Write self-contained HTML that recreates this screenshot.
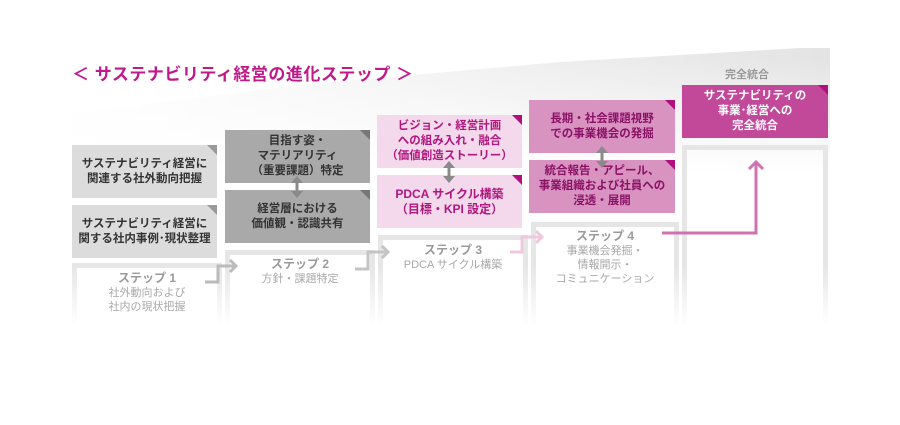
<!DOCTYPE html>
<html><head><meta charset="utf-8"><style>
body{margin:0;width:900px;height:425px;background:#fff;position:relative;overflow:hidden;font-family:"Liberation Sans","Noto Sans CJK JP",sans-serif;}
.a{position:absolute}
.card{position:absolute;display:flex;align-items:center;justify-content:center;text-align:center;font-size:11.5px;font-weight:bold;line-height:15px;}
.pil{position:absolute;border:5px solid #e6e6e6;box-sizing:border-box;}
.lab{position:absolute;text-align:center;color:#a8a8a8;font-size:11px;line-height:14px}
.lab b{font-size:12px;color:#9a9a9a}
</style></head><body>
<svg class="a" style="left:0;top:0" width="900" height="425">
<defs>
<linearGradient id="w" x1="0" x2="1" y1="0" y2="0"><stop offset="0" stop-color="#fff"/><stop offset="0.5" stop-color="#f2f2f2"/><stop offset="1" stop-color="#e4e4e4"/></linearGradient>
<linearGradient id="v" x1="0" x2="0" y1="0" y2="1"><stop offset="0" stop-color="#fff" stop-opacity="0"/><stop offset="1" stop-color="#fff" stop-opacity="1"/></linearGradient>
</defs>
<polygon points="60,115 300,85 560,62 800,48 830,48 830,170 60,170" fill="url(#w)"/>
<rect x="55" y="60" width="790" height="112" fill="url(#v)"/>
</svg>
<div class="a" style="left:72px;top:60px;font-size:17px;color:#c0198a;font-weight:bold;letter-spacing:0.5px">＜ サステナビリティ経営の進化ステップ ＞</div>
<div class="a" style="left:725px;top:66px;font-size:11px;color:#999;font-weight:bold">完全統合</div>

<div class="pil" style="left:72px;top:263px;width:150px;height:80px"></div>
<div class="pil" style="left:225px;top:250px;width:150px;height:90px"></div>
<div class="pil" style="left:378px;top:235px;width:150px;height:105px"></div>
<div class="pil" style="left:531px;top:222px;width:148px;height:120px"></div>
<div class="pil" style="left:682px;top:145px;width:146px;height:200px"></div>
<div class="a" style="left:60px;top:265px;width:790px;height:80px;background:linear-gradient(rgba(255,255,255,0),#fff 75%)"></div>

<div class="card" style="left:72px;top:145px;width:145px;height:53px;background:#dcdcdc;color:#333">サステナビリティ経営に<br>関連する社外動向把握</div>
<div class="card" style="left:72px;top:205px;width:145px;height:53px;background:#dcdcdc;color:#333">サステナビリティ経営に<br>関する社内事例･現状整理</div>
<div class="card" style="left:225px;top:130px;width:145px;height:53px;background:#a9a9a9;color:#333">目指す姿・<br>マテリアリティ<br>（重要課題）特定</div>
<div class="card" style="left:225px;top:190px;width:145px;height:53px;background:#a9a9a9;color:#333">経営層における<br>価値観・認識共有</div>
<div class="card" style="left:377px;top:115px;width:145px;height:53px;background:#f3d9eb;color:#b0177f">ビジョン・経営計画<br>への組み入れ・融合<br>（価値創造ストーリー）</div>
<div class="card" style="left:377px;top:175px;width:145px;height:53px;background:#f3d9eb;color:#b0177f;font-size:12px">PDCA サイクル構築<br>（目標・KPI 設定）</div>
<div class="card" style="left:529px;top:100px;width:146px;height:53px;background:#d993c1;color:#8a1266">長期・社会課題視野<br>での事業機会の発掘</div>
<div class="card" style="left:529px;top:160px;width:146px;height:53px;background:#d993c1;color:#8a1266">統合報告・アピール、<br>事業組織および社員への<br>浸透・展開</div>
<div class="card" style="left:682px;top:85px;width:146px;height:53px;background:#c2489a;color:#fff">サステナビリティの<br>事業･経営への<br>完全統合</div>

<svg class="a" style="left:0;top:0" width="900" height="425">
<g fill="#9a9a9a"><polygon points="207,145 217,155 217,145"/><polygon points="207,205 217,215 217,205"/></g>
<g fill="#777"><polygon points="360,130 370,140 370,130"/><polygon points="360,190 370,200 370,190"/></g>
<g fill="#b10f7e"><polygon points="512,115 522,125 522,115"/><polygon points="512,175 522,185 522,175"/><polygon points="665,100 675,110 675,100"/><polygon points="665,160 675,170 675,160"/><polygon points="818,85 828,95 828,85"/></g>
<line x1="297" y1="180" x2="297" y2="194" stroke="#8a8a8a" stroke-width="3"/>
<polygon points="291,183 297,176 303,183" fill="#8a8a8a"/><polygon points="291,191 297,198 303,191" fill="#8a8a8a"/>
<line x1="449" y1="165" x2="449" y2="179" stroke="#8a8a8a" stroke-width="3"/>
<polygon points="443,168 449,161 455,168" fill="#8a8a8a"/><polygon points="443,176 449,183 455,176" fill="#8a8a8a"/>
<line x1="602" y1="150" x2="602" y2="164" stroke="#8a8a8a" stroke-width="3"/>
<polygon points="596,153 602,146 608,153" fill="#8a8a8a"/><polygon points="596,161 602,168 608,161" fill="#8a8a8a"/>
<g fill="none" stroke-width="3">
<polyline points="205,282 218,282 218,266 236,266" stroke="#bbb"/><polyline points="230,260 236,266 230,272" stroke="#bbb"/>
<polyline points="355,269 368,269 368,252 388,252" stroke="#c4c4c4"/><polyline points="382,246 388,252 382,258" stroke="#c4c4c4"/>
<polyline points="510,252 522,252 522,237 542,237" stroke="#efc8e0"/><polyline points="536,231 542,237 536,243" stroke="#efc8e0"/>
<polyline points="662,233 756,233 756,162" stroke="#d271b2"/><polyline points="749,169 756,162 763,169" stroke="#d271b2"/>
</g>
</svg>

<div class="lab" style="left:72px;top:271px;width:150px"><b>ステップ 1</b><br>社外動向および<br>社内の現状把握</div>
<div class="lab" style="left:225px;top:257px;width:150px"><b>ステップ 2</b><br>方針・課題特定</div>
<div class="lab" style="left:378px;top:243px;width:150px"><b>ステップ 3</b><br>PDCA サイクル構築</div>
<div class="lab" style="left:531px;top:229px;width:148px"><b>ステップ 4</b><br>事業機会発掘・<br>情報開示・<br>コミュニケーション</div>
</body></html>
